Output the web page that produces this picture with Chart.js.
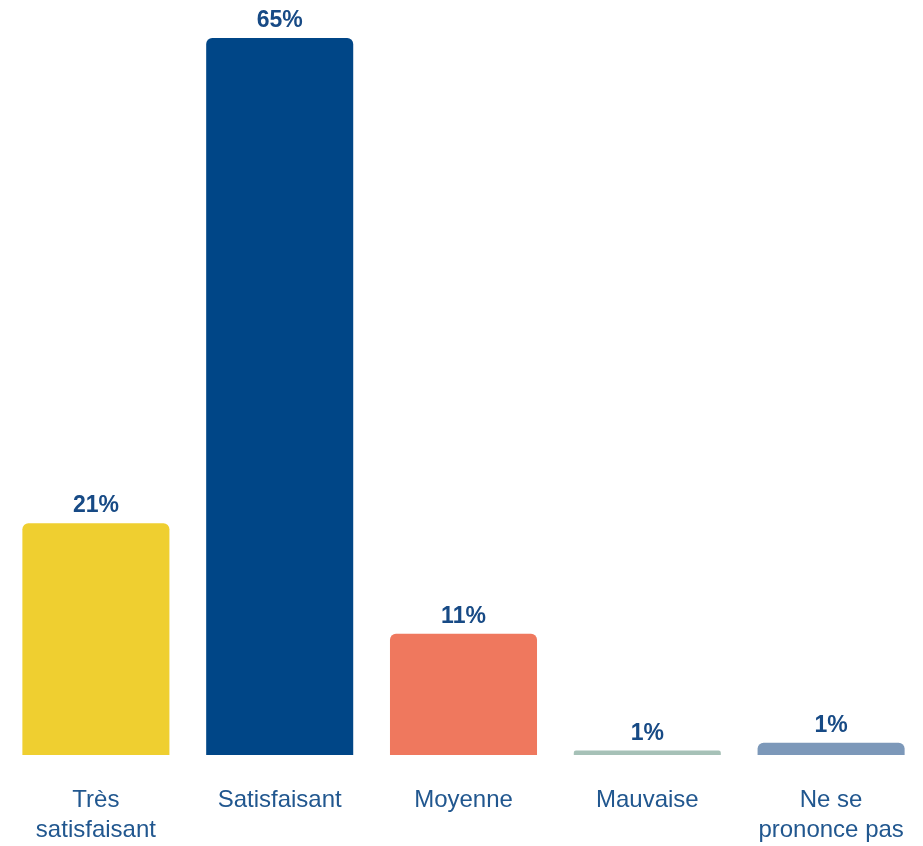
<!doctype html>
<html lang="fr">
<head>
  <meta charset="utf-8">
  <title>Satisfaction</title>
  <style>
    html, body { margin: 0; padding: 0; background: #fff; overflow: hidden; }
    canvas { display: block; }
  </style>
</head>
<body>
  <canvas id="myChart" width="923" height="846"></canvas>
  <script src="https://cdn.jsdelivr.net/npm/chart.js"></script>
  <script>
    const categories = [['Très', 'satisfaisant'], 'Satisfaisant', 'Moyenne', 'Mauvaise', ['Ne se', 'prononce pas']];
    const values = [21, 65, 11, 0.4, 1.1];
    const valueLabels = ['21%', '65%', '11%', '1%', '1%'];
    const barColors = ['#EFCF30', '#004687', '#EF785E', '#A6C1B7', '#7C98B9'];

    const LABEL_BLUE = '#174A85';
    const TICK_BLUE = '#21578F';

    // draws the percentages above each bar
    const valueLabelPlugin = {
      id: 'valueLabels',
      afterDatasetsDraw(chart) {
        const ctx = chart.ctx;
        const meta = chart.getDatasetMeta(0);
        ctx.save();
        ctx.font = 'bold 23px "Liberation Sans", Arial, sans-serif';
        ctx.fillStyle = LABEL_BLUE;
        ctx.textAlign = 'center';
        ctx.textBaseline = 'alphabetic';
        meta.data.forEach((bar, i) => {
          ctx.fillText(valueLabels[i], bar.x, bar.y - 11);
        });
        ctx.restore();
      }
    };

    const config = {
      type: 'bar',
      data: {
        labels: categories,
        datasets: [{
          data: values,
          backgroundColor: barColors,
          borderRadius: 6,
          borderSkipped: 'start',
          barPercentage: 0.8,
          categoryPercentage: 1.0
        }]
      },
      options: {
        responsive: false,
        animation: false,
        layout: { padding: { top: 38, left: 4, right: 0, bottom: 1 } },
        plugins: {
          legend: { display: false },
          tooltip: { enabled: false }
        },
        scales: {
          x: {
            grid: { display: false, drawTicks: false },
            border: { display: false },
            ticks: {
              color: TICK_BLUE,
              padding: 0,
              maxRotation: 0,
              autoSkip: false,
              // blank first line keeps the gap between bars and labels
              callback: (v, i) => [''].concat(categories[i]),
              font: { family: '"Liberation Sans", Arial, sans-serif', size: 24, lineHeight: 1.25 }
            }
          },
          y: {
            display: false,
            min: 0,
            max: 65
          }
        }
      },
      plugins: [valueLabelPlugin]
    };

    const myChart = new Chart(document.getElementById('myChart'), config);
  </script>
</body>
</html>
